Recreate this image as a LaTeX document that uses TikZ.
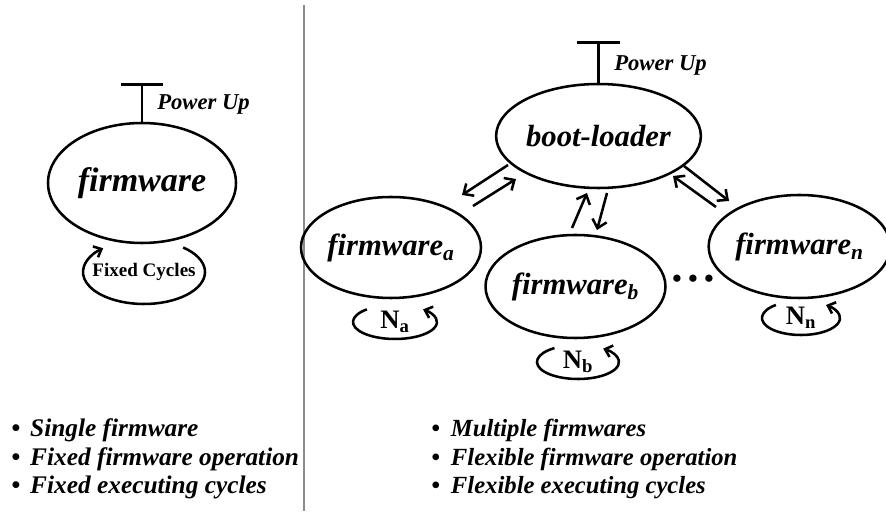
\documentclass[tikz,border=0pt]{standalone}
\usepackage{fontspec}
\setmainfont{Liberation Serif}
\usepackage{tikz}
\usetikzlibrary{positioning,shapes.geometric,arrows.meta}

\definecolor{divgray}{RGB}{140,140,140}
\tikzset{
  state/.style={draw, shape=ellipse, line width=1.9pt, inner sep=0pt, font=\fontsize{23}{26}\selectfont\bfseries\itshape},
  flow/.style={line width=1.9pt, -{Straight Barb[length=6pt,width=11pt]}},
  cyc/.style={line width=1.9pt, -{Straight Barb[length=5pt,width=9pt]}},
  powerbar/.style={line width=1.9pt},
  note/.style={font=\fontsize{17}{20}\selectfont\bfseries\itshape, anchor=west, inner sep=0pt},
  count/.style={font=\fontsize{20}{22}\selectfont\bfseries, inner sep=0pt},
  point/.style={font=\fontsize{18.5}{22}\selectfont\bfseries\itshape, anchor=base west, inner sep=0pt},
}

\begin{document}
\begin{tikzpicture}[x=0.75pt, y=-0.75pt]
\useasboundingbox (0,0) rectangle (886,516);

% single firmware
\node[state, minimum width=141pt, minimum height=90pt, font=\fontsize{25.5}{28}\selectfont\bfseries\itshape] (fw) at (142,183) {firmware};
\draw[powerbar] (fw.north) -- ++(0,-37) coordinate (fwpu);
\draw[powerbar] ([xshift=-16pt]fwpu) -- ([xshift=16pt]fwpu);
\node[note] (fwup) at (157,104) {Power Up};
\node[font=\fontsize{14.3}{16}\selectfont\bfseries, inner sep=0pt] (fc) at (144,272) {Fixed Cycles};
\draw[cyc] ([shift={(-50:61 and 32)}]fc.center) arc[start angle=-50, end angle=228, x radius=61, y radius=32];

\draw[divgray, line width=1.5pt] (304,5) -- (304,511);

% multiple firmwares
\node[state, minimum width=117.75pt, minimum height=78pt] (boot) at (598.5,136) {boot-loader};
\draw[powerbar] (boot.north) -- ++(0,-40) coordinate (bootpu);
\draw[powerbar] ([xshift=-16pt]bootpu) -- ([xshift=16pt]bootpu);
\node[note] (bootup) at (614,65) {Power Up};

\node[state, minimum width=111pt, minimum height=75.75pt] (fwa) at (391,247.5) {firmware\textsubscript{a}};
\node[state, minimum width=120.75pt, minimum height=77.25pt] (fwb) at (575.5,286.5) {firmware\textsubscript{b}};
\node[state, minimum width=123.75pt, minimum height=77.25pt] (fwn) at (799.5,246.5) {firmware\textsubscript{n}};
\node[font=\fontsize{20}{22}\selectfont\bfseries] (dots) at (693,281) {\textbullet\ \textbullet\ \textbullet};

% switching between boot-loader and firmwares
\coordinate (bootA) at (508,165);
\coordinate (fwaIn) at (462,195);
\coordinate (fwaOut) at (473,206);
\coordinate (bootAin) at (516,179);
\draw[flow] (bootA) -- (fwaIn);
\draw[flow] (fwaOut) -- (bootAin);
\coordinate (fwbOut) at (572,228);
\coordinate (bootBin) at (587,193);
\coordinate (bootB) at (607,193);
\coordinate (fwbIn) at (597,230);
\draw[flow] (fwbOut) -- (bootBin);
\draw[flow] (bootB) -- (fwbIn);
\coordinate (bootN) at (684,166);
\coordinate (fwnIn) at (729,201);
\coordinate (fwnOut) at (716,207);
\coordinate (bootNin) at (673,176);
\draw[flow] (bootN) -- (fwnIn);
\draw[flow] (fwnOut) -- (bootNin);

% executing cycles
\node[count] (na) at (395,322) {N\textsubscript{a}};
\draw[cyc] ([shift={(228:42 and 17)}]na.center) arc[start angle=228, end angle=-48, x radius=42, y radius=17];
\node[count] (nb) at (578,362) {N\textsubscript{b}};
\draw[cyc] ([shift={(235:41 and 17)}]nb.center) arc[start angle=235, end angle=-52, x radius=41, y radius=17];
\node[count] (nn) at (801,318) {N\textsubscript{n}};
\draw[cyc] ([shift={(230:39 and 17)}]nn.center) arc[start angle=230, end angle=-50, x radius=39, y radius=17];

% features
\node[point, font=\fontsize{19}{22}\selectfont\bfseries\itshape] (single) at (11,437) {\textbullet\hspace{0.4em}Single firmware};
\node[point, font=\fontsize{19}{22}\selectfont\bfseries\itshape] (fixop) at (11,465.5) {\textbullet\hspace{0.4em}Fixed firmware operation};
\node[point, font=\fontsize{19}{22}\selectfont\bfseries\itshape] (fixcyc) at (11,494) {\textbullet\hspace{0.4em}Fixed executing cycles};
\node[point] (multi) at (431,437) {\textbullet\hspace{0.45em}Multiple firmwares};
\node[point] (flexop) at (431,465.5) {\textbullet\hspace{0.45em}Flexible firmware operation};
\node[point] (flexcyc) at (431,494) {\textbullet\hspace{0.45em}Flexible executing cycles};
\end{tikzpicture}
\end{document}
